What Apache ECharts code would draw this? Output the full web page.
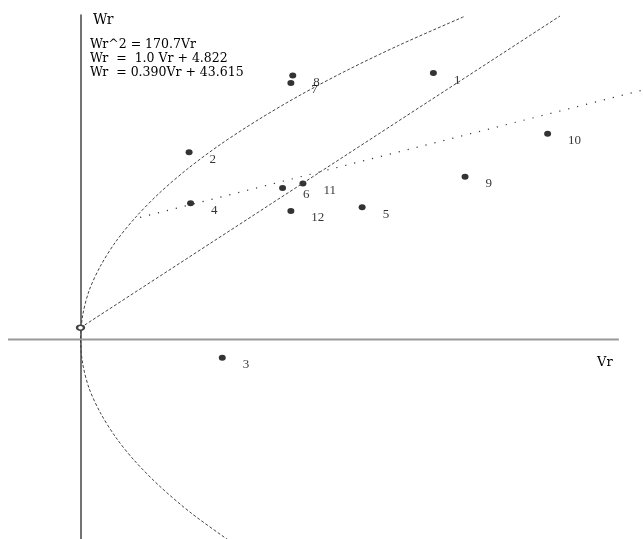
<!DOCTYPE html>
<html>
<head>
<meta charset="utf-8">
<script src="https://cdn.jsdelivr.net/npm/echarts@6/dist/echarts.min.js"></script>
<style>
  html, body { margin: 0; padding: 0; background: #fff; }
  #chart { width: 643px; height: 539px; }
</style>
</head>
<body>
<div id="chart"></div>
<script>
// observations (Vr, Wr) and their numbers
var pointIds = ['1', '2', '3', '4', '5', '6', '7', '8', '9', '10', '11', '12'];
var pointVr = [93.6, 28.8, 37.6, 29.2, 74.7, 53.6, 55.8, 56.3, 102.0, 123.9, 59.0, 55.8];
var pointWr = [108.7, 76.4, -7.4, 55.6, 54.0, 61.8, 104.7, 107.7, 66.4, 83.9, 63.6, 52.4];

// Wr^2 = 170.7Vr
var paraVr = [39.2, 29.5, 21.1, 14.3, 9.4, 5.3, 2.3, 0.6, 0, 0.6, 2.3, 5.3, 9.4, 14.7, 21.1, 28.7, 37.5, 47.5, 58.6, 70.9, 84.4, 102.1];
var paraWr = [-81.8, -71, -60, -49.4, -40, -30, -20, -10, 0, 10, 20, 30, 40, 50, 60, 70, 80, 90, 100, 110, 120, 132];

// Wr = 1.0 Vr + 4.822
var lineVr = [0, 127.2];
var lineWr = [4.8, 132.0];

// Wr = 0.390Vr + 43.615
var dotVr = [15.8, 149.2];
var dotWr = [49.8, 101.8];

// horizontal axis drawn only up to here
var axisVr = [-19.23, 142.8];

var equations = ['Wr^2 = 170.7Vr', 'Wr  =  1.0 Vr + 4.822', 'Wr  = 0.390Vr + 43.615'];

function pairs(xs, ys) {
    var out = [];
    for (var i = 0; i < xs.length; i++) {
        out.push([xs[i], ys[i]]);
    }
    return out;
}

var chartDom = document.getElementById('chart');
var myChart = echarts.init(chartDom);

var serif = '"DejaVu Serif", "Liberation Serif", serif';

var pointData = [];
for (var i = 0; i < pointIds.length; i++) {
    pointData.push({ value: [pointVr[i], pointWr[i]], name: pointIds[i] });
}

var lineData = pairs(lineVr, lineWr);
lineData[1] = { value: lineData[1], symbol: 'none' };

var option = {
    animation: false,
    backgroundColor: '#fff',
    grid: { left: 8, right: 0, top: 15, bottom: 0 },
    xAxis: {
        type: 'value',
        min: -19.23,
        max: 149.2,
        axisLine: { show: false },
        axisTick: { show: false },
        axisLabel: { show: false },
        splitLine: { show: false }
    },
    yAxis: {
        type: 'value',
        min: -81.4,
        max: 132.4,
        axisLine: { show: true, onZero: true, lineStyle: { color: '#444', width: 1.5 } },
        axisTick: { show: false },
        axisLabel: { show: false },
        splitLine: { show: false }
    },
    graphic: [
        { type: 'text', left: 93, top: 13, style: { text: 'Wr', font: '14px ' + serif, fill: '#000' } },
        { type: 'text', left: 597, top: 356, style: { text: 'Vr', font: '13px ' + serif, fill: '#000' } },
        { type: 'text', left: 90, top: 38, style: { text: equations.join('\n'), font: '12.5px ' + serif, lineHeight: 14, fill: '#000' } }
    ],
    series: [
        {
            type: 'line',
            data: pairs(axisVr, [0, 0]),
            showSymbol: false,
            silent: true,
            lineStyle: { color: '#999', width: 2 }
        },
        {
            type: 'line',
            data: pairs(paraVr, paraWr),
            smooth: 0.3,
            showSymbol: false,
            lineStyle: { color: '#444', width: 1, type: [3, 2] }
        },
        {
            type: 'line',
            data: lineData,
            symbol: 'emptyCircle',
            symbolSize: [7, 5],
            showSymbol: true,
            itemStyle: { color: '#444', borderWidth: 1 },
            lineStyle: { color: '#444', width: 1, type: [3, 2] }
        },
        {
            type: 'line',
            data: pairs(dotVr, dotWr),
            showSymbol: false,
            lineStyle: { color: '#333', width: 1.2, type: [1.2, 8] }
        },
        {
            type: 'scatter',
            data: pointData,
            symbol: 'circle',
            symbolSize: [7, 6],
            itemStyle: { color: '#000' },
            label: {
                show: true,
                position: 'right',
                distance: 17,
                offset: [0, 7],
                formatter: '{b}',
                color: '#000',
                fontFamily: '"Liberation Serif", serif',
                fontSize: 13
            }
        }
    ]
};

option && myChart.setOption(option);
</script>
</body>
</html>
